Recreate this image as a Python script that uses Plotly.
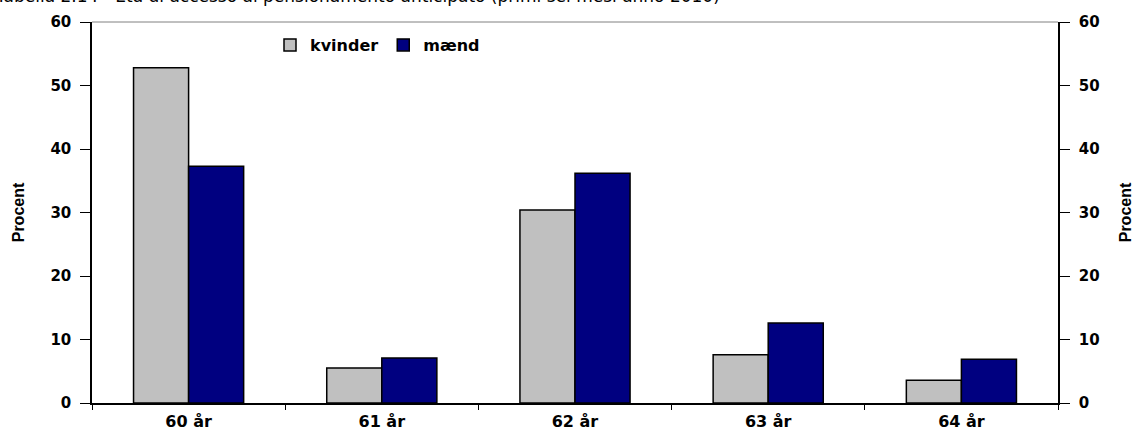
import plotly.graph_objects as go

# Age at early retirement, share of new pensioners by sex (percent)
ages = ["60 år", "61 år", "62 år", "63 år", "64 år"]
kvinder = [52.8, 5.5, 30.4, 7.6, 3.6]
maend = [37.3, 7.1, 36.2, 12.6, 6.9]
y_ticks = [0, 10, 20, 30, 40, 50, 60]

title_text = "Tabella 2.14 - Età di accesso al pensionamento anticipato (primi sei mesi anno 2010)"

W, H = 1137, 432
L, R, T, B = 92, 79, 22, 29
plot_w = W - L - R
plot_h = H - T - B

tick_font = dict(family="DejaVu Sans", size=15, color="black", weight="bold")
xtick_font = dict(family="DejaVu Sans", size=16, color="black", weight="bold")
title_font = dict(family="Liberation Sans Narrow, Liberation Sans, Arial", size=16,
                  color="black", weight="bold")

fig = go.Figure()
fig.add_trace(go.Bar(
    name="kvinder", x=ages, y=kvinder,
    marker=dict(color="#c0c0c0", line=dict(color="black", width=1.5)),
))
fig.add_trace(go.Bar(
    name="mænd", x=ages, y=maend,
    marker=dict(color="#000080", line=dict(color="black", width=1.5)),
))
# empty trace to carry the mirrored right-hand axis
fig.add_trace(go.Scatter(x=[], y=[], yaxis="y2", showlegend=False, hoverinfo="skip"))

fig.update_layout(
    width=W, height=H,
    margin=dict(l=L, r=R, t=T, b=B, pad=0, autoexpand=False),
    paper_bgcolor="white", plot_bgcolor="white",
    barmode="group", bargap=0.43, bargroupgap=0,
    showlegend=True,
    legend=dict(
        orientation="h", x=(270 - L) / plot_w, y=(H - B - 45) / plot_h,
        xanchor="left", yanchor="middle",
        font=dict(family="DejaVu Sans", size=16, color="black", weight="bold"),
        itemwidth=30, bgcolor="rgba(0,0,0,0)", tracegroupgap=0,
    ),
    xaxis=dict(
        type="category", tickson="boundaries", ticks="outside", ticklen=5,
        tickcolor="black", tickwidth=1, ticklabelstandoff=3, automargin=False,
        showline=True, linecolor="black", linewidth=1.5,
        showgrid=False, tickfont=xtick_font, zeroline=False,
    ),
    yaxis=dict(
        range=[0, 60], tickvals=y_ticks, ticks="outside", ticklen=10,
        tickcolor="black", tickwidth=1, ticklabelstandoff=6, automargin=False,
        showline=True, linecolor="black", linewidth=1.5,
        showgrid=False, zeroline=False, tickfont=tick_font,
        title=dict(text="Procent", font=title_font, standoff=22),
    ),
    yaxis2=dict(
        range=[0, 60], tickvals=y_ticks, ticks="outside", ticklen=10,
        tickcolor="black", tickwidth=1, ticklabelstandoff=6, automargin=False,
        overlaying="y", side="right", anchor="x",
        showline=True, linecolor="black", linewidth=1.5,
        showgrid=False, zeroline=False, tickfont=tick_font,
        title=dict(text="Procent", font=title_font, standoff=21),
    ),
    shapes=[dict(
        type="line", xref="paper", yref="paper", x0=0, x1=1, y0=1, y1=1,
        line=dict(color="#808080", width=1),
    )],
    annotations=[dict(
        text=title_text, xref="paper", yref="paper",
        x=(-7 - L) / plot_w, y=1 + (T + 4) / plot_h,
        xanchor="left", yanchor="middle", showarrow=False,
        font=dict(family="DejaVu Sans", size=17, color="black"),
    )],
)

fig.write_html("out.html")
